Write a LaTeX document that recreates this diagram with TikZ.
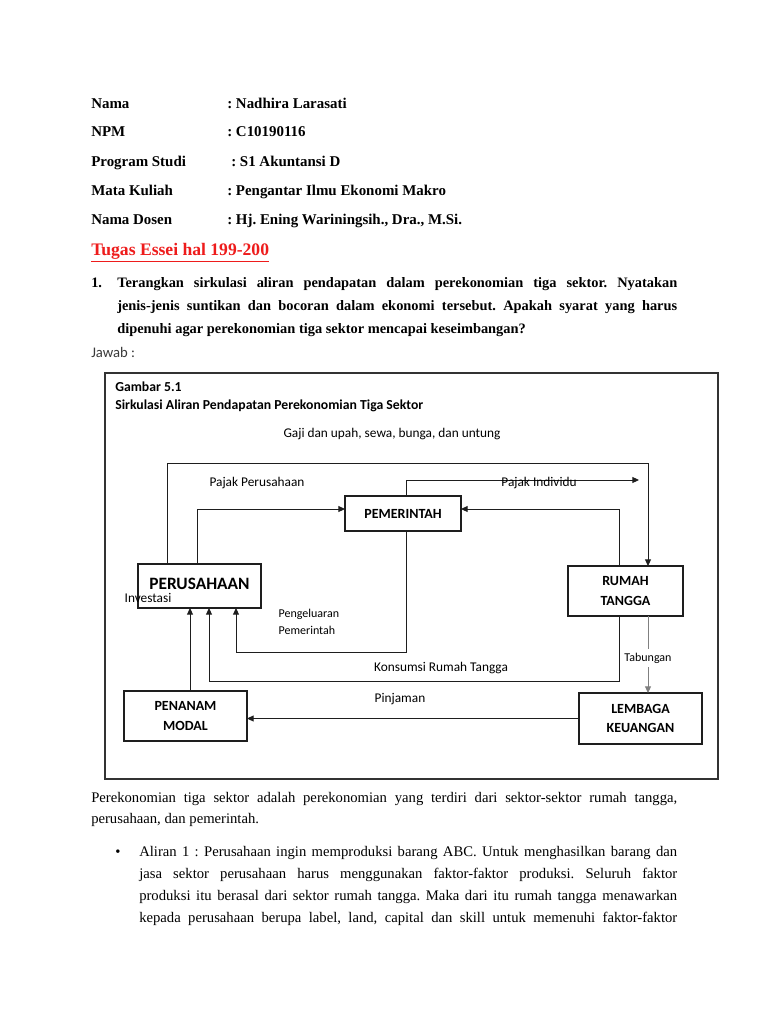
\documentclass[tikz,border=0pt]{standalone}
\usepackage{fontspec}
\setmainfont{Liberation Serif}
\newfontfamily\calibri{Carlito}
\usetikzlibrary{arrows.meta}
\frenchspacing

\definecolor{inkline}{HTML}{1E1E1E}
\definecolor{softline}{HTML}{808080}
\definecolor{tugasred}{HTML}{EE1C1C}
\definecolor{jawabgray}{HTML}{3A3A3A}

\tikzset{
  >={Triangle[length=5pt,width=4.5pt]},
  pagetext/.style={anchor=west, inner sep=0pt, text height=10pt, text depth=1.5pt,
    font=\fontsize{11}{13}\selectfont},
  hdr/.style={pagetext, font=\bfseries\fontsize{11.2}{14}\selectfont},
  asktext/.style={pagetext, font=\bfseries\fontsize{10.8}{13}\selectfont},
  sector/.style={draw=inkline, line width=0.8pt, inner sep=0pt, outer sep=0pt,
    align=center, font=\calibri\bfseries\fontsize{10.5}{14.5}\selectfont},
  flow/.style={->, draw=inkline, line width=0.7pt},
  flowlabel/.style={inner sep=1pt, font=\calibri\fontsize{10}{12}\selectfont},
  smalllabel/.style={flowlabel, font=\calibri\fontsize{9}{12.5}\selectfont}
}

\begin{document}
\begin{tikzpicture}[x=0.75pt, y=-0.75pt]
\fill[white] (0,0) rectangle (768,1024);
\useasboundingbox (0,0) rectangle (768,1024);

% ---- Identitas ----
\foreach \lab/\val/\yy/\cx in {
    Nama/{: Nadhira Larasati}/103/227,
    NPM/{: C10190116}/131/227,
    Program Studi/{: S1 Akuntansi D}/161/231,
    Mata Kuliah/{: Pengantar Ilmu Ekonomi Makro}/190/227,
    Nama Dosen/{: Hj. Ening Wariningsih., Dra., M.Si.}/219/227
}{
    \node[hdr] (lab\yy) at (91,\yy) {\lab};
    \node[hdr] (val\yy) at (\cx,\yy) {\val};
}

\node[hdr, text=tugasred, font=\bfseries\fontsize{13.2}{15}\selectfont]
    (tugas) at (91,250) {\underline{Tugas Essei hal 199-200}};

% ---- Soal ----
\node[asktext] (nomor) at (91,282) {1.};
\node[asktext] (soal1) at (117,282) {\makebox[420pt][s]{Terangkan sirkulasi aliran pendapatan dalam perekonomian tiga sektor. Nyatakan}};
\node[asktext] (soal2) at (117,305) {\makebox[420pt][s]{jenis-jenis suntikan dan bocoran dalam ekonomi tersebut. Apakah syarat yang harus}};
\node[asktext] (soal3) at (117,328) {dipenuhi agar perekonomian tiga sektor mencapai keseimbangan?};

\node[pagetext, text=jawabgray, font=\calibri\fontsize{11}{13}\selectfont] (jawab) at (91,352) {Jawab :};

% ---- Gambar 5.1 ----
\draw[black!80, line width=0.9pt] (105,373) rectangle (718,779);
\node[pagetext, font=\calibri\bfseries\fontsize{10.3}{12}\selectfont] (gbr) at (115,386) {Gambar 5.1};
\node[pagetext, font=\calibri\bfseries\fontsize{10.3}{12}\selectfont] (gbrjudul) at (115,404) {Sirkulasi Aliran Pendapatan Perekonomian Tiga Sektor};

% sectors
\node[sector, minimum width=87pt, minimum height=26.25pt] (pemer) at (403,513.5) {PEMERINTAH};
\node[sector, minimum width=92.25pt, minimum height=33pt, font=\calibri\bfseries\fontsize{13}{15}\selectfont]
    (peru) at (199.5,586) {\raisebox{4pt}{PERUSAHAAN}};
\node[sector, minimum width=86.25pt, minimum height=37.5pt] (rumah) at (625.5,591) {RUMAH\\TANGGA};
\node[sector, minimum width=92.25pt, minimum height=37.5pt] (penanam) at (185.5,716) {PENANAM\\MODAL};
\node[sector, minimum width=92.25pt, minimum height=38.25pt] (lembaga) at (640.5,718.5) {LEMBAGA\\KEUANGAN};

% gaji dan upah (perusahaan -> rumah tangga)
\coordinate (gajiL) at (167,463);
\coordinate (gajiR) at (648,463);
\draw[flow] (gajiL |- peru.north) -- (gajiL) -- (gajiR) -- (gajiR |- rumah.north);

% pajak perusahaan
\coordinate (ppBend) at (197,509);
\draw[flow] (ppBend |- peru.north) -- (ppBend) -- (pemer.west |- ppBend);

% pajak individu
\coordinate (piBend) at (406,480);
\coordinate (piEnd) at (639,480);
\draw[flow] (piBend |- pemer.north) -- (piBend) -- (piEnd);

% rumah tangga -> pemerintah
\coordinate (rtBend) at (619,509);
\draw[flow] (rtBend |- rumah.north) -- (rtBend) -- (pemer.east |- rtBend);

% pengeluaran pemerintah
\coordinate (pgR) at (406,652);
\coordinate (pgL) at (236,652);
\draw[flow] (pgR |- pemer.south) -- (pgR) -- (pgL) -- (pgL |- peru.south);

% konsumsi rumah tangga
\coordinate (ksR) at (619,681);
\coordinate (ksL) at (209,681);
\draw[flow] (ksR |- rumah.south) -- (ksR) -- (ksL) -- (ksL |- peru.south);

% investasi
\coordinate (inv) at (190,650);
\draw[flow] (inv |- penanam.north) -- (inv |- peru.south);

% tabungan
\coordinate (tab) at (648,650);
\draw[flow, draw=softline] (tab |- rumah.south) -- (tab |- lembaga.north);

% pinjaman
\draw[flow] (lembaga.west) -- (penanam.east |- lembaga.west);

% flow labels
\node[flowlabel] (lgaji) at (392,434) {Gaji dan upah, sewa, bunga, dan untung};
\node[flowlabel] (lpp) at (257,483) {Pajak Perusahaan};
\node[flowlabel] (lpi) at (539,483) {Pajak Individu};
\node[flowlabel] (linv) at (148,598) {Investasi};
\node[smalllabel, anchor=west, align=left] (lpg) at (277,622) {Pengeluaran\\Pemerintah};
\node[flowlabel] (lks) at (441,668) {Konsumsi Rumah Tangga};
\node[flowlabel] (lpin) at (400,699) {Pinjaman};
\node[smalllabel, fill=white, inner sep=3pt] (ltab) at (648,658) {Tabungan};

% ---- Uraian ----
\node[pagetext] (para1) at (91,797) {\makebox[439.5pt][s]{Perekonomian tiga sektor adalah perekonomian yang terdiri dari sektor-sektor rumah tangga,}};
\node[pagetext] (para2) at (91,818) {perusahaan, dan pemerintah.};

\node[pagetext] (bullet) at (115,851) {\textbullet};
\node[pagetext] (alir1) at (139,851) {\makebox[403.5pt][s]{Aliran 1 : Perusahaan ingin memproduksi barang ABC. Untuk menghasilkan barang dan}};
\node[pagetext] (alir2) at (139,873) {\makebox[403.5pt][s]{jasa sektor perusahaan harus menggunakan faktor-faktor produksi. Seluruh faktor}};
\node[pagetext] (alir3) at (139,895) {\makebox[403.5pt][s]{produksi itu berasal dari sektor rumah tangga. Maka dari itu rumah tangga menawarkan}};
\node[pagetext] (alir4) at (139,917) {\makebox[403.5pt][s]{kepada perusahaan berupa label, land, capital dan skill untuk memenuhi faktor-faktor}};

\end{tikzpicture}
\end{document}
